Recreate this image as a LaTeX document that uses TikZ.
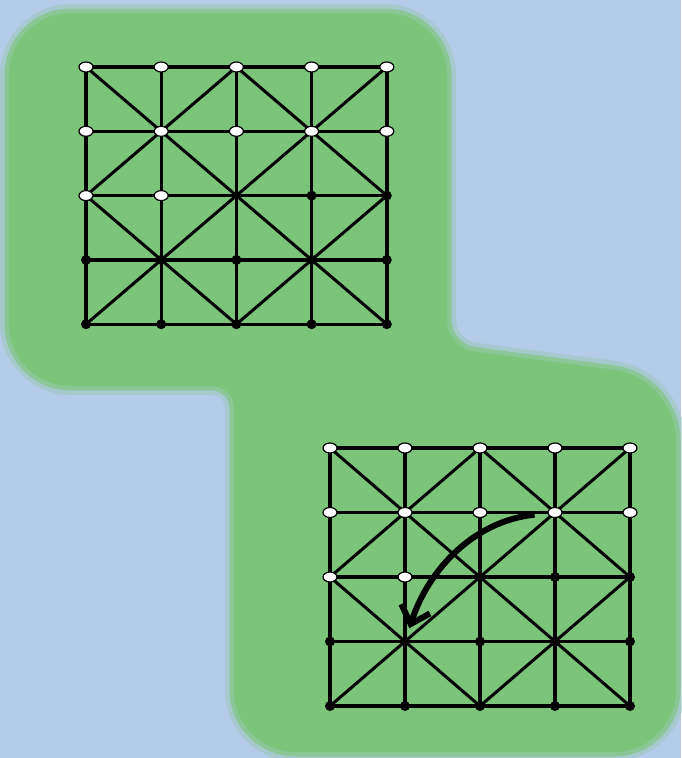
\documentclass[tikz,border=0pt]{standalone}
\usetikzlibrary{arrows.meta,shapes.geometric}
\definecolor{skyblue}{RGB}{180,203,234}
\definecolor{boardgreen}{RGB}{124,196,122}
\newcommand\blobpath{[rounded corners=62pt] (9,-13) -- (447,-13) [rounded corners=28pt] -- (447,-348) [rounded corners=62pt] -- (676,-378) -- (676,-752) -- (234,-752) [rounded corners=22pt] -- (234,-386) [rounded corners=62pt] -- (9,-386) -- cycle}

\begin{document}
\begin{tikzpicture}[x=1pt,y=1pt,line/.style={line width=3.4pt,line cap=round},diag/.style={line width=3pt,line cap=round},whitestone/.style={ellipse,draw,line width=1.2pt,fill=white,minimum width=14pt,minimum height=10pt,inner sep=0pt},blackstone/.style={circle,fill=black,minimum size=10pt,inner sep=0pt},move/.style={line width=6pt,-{Straight Barb[length=16pt,width=30pt]},shorten <=13pt,shorten >=14pt}]
\fill[skyblue] (0,0) rectangle (681,-758);
\useasboundingbox (0,0) rectangle (681,-758);
% green ground with a soft rim
\draw[boardgreen!55!skyblue,line width=18pt,opacity=0.45,line join=round] \blobpath;
\draw[boardgreen!75!skyblue,line width=9pt,line join=round] \blobpath;
\fill[boardgreen] \blobpath;
% board points
\foreach \c in {0,...,4} \foreach \r in {0,...,4} {
  \coordinate (a\c\r) at ({86+75.2*\c},{-67-64.3*\r});
  \coordinate (b\c\r) at ({330+75*\c},{-448-64.5*\r});
}
% board lines
\foreach \g in {a,b} {
  \foreach \i in {0,...,4} {
    \draw[line] (\g0\i) -- (\g4\i);
    \draw[line] (\g\i0) -- (\g\i4);
  }
  \draw[diag] (\g00) -- (\g44);
  \draw[diag] (\g40) -- (\g04);
  \draw[diag] (\g20) -- (\g02) -- (\g24) -- (\g42) -- cycle;
}
% top board
\foreach \p in {00,10,20,30,40,01,11,21,31,41,02,12} \node[whitestone] (wa\p) at (a\p) {};
\foreach \p in {32,42,03,13,23,33,43,04,14,24,34,44} \node[blackstone] (ka\p) at (a\p) {};
% bottom board
\foreach \p in {00,10,20,30,40,01,11,21,31,41,02,12} \node[whitestone] (wb\p) at (b\p) {};
\foreach \p in {22,32,42,03,23,33,43,04,14,24,34,44} \node[blackstone] (kb\p) at (b\p) {};
\draw[move] (wb31) to[out=186,in=72] (b13);
\end{tikzpicture}
\end{document}
